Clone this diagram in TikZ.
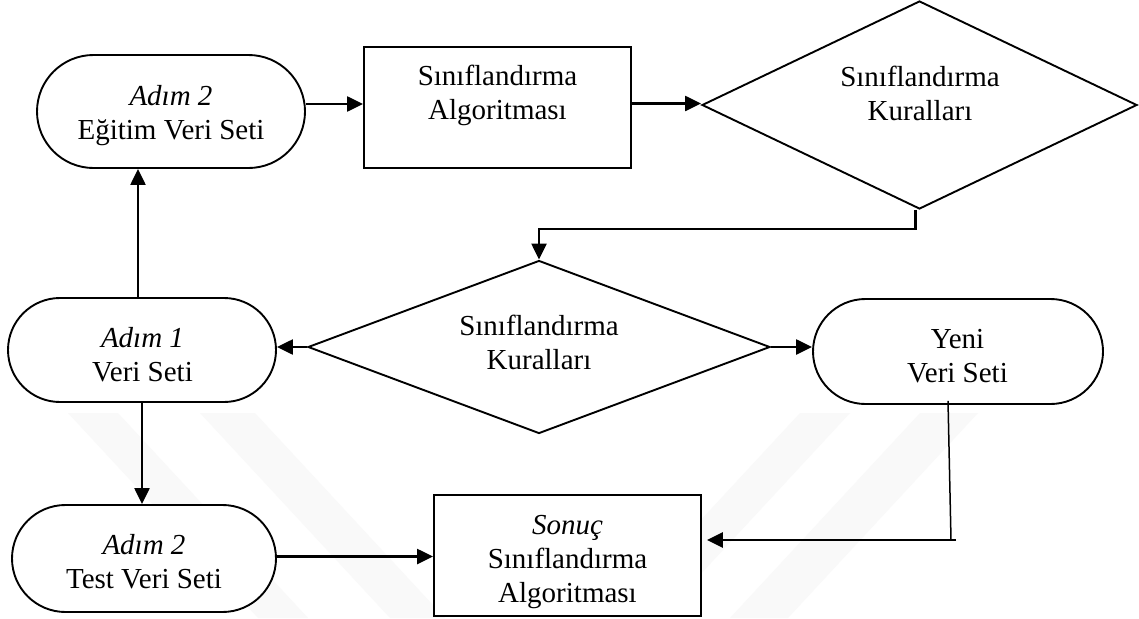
\documentclass[tikz,border=0pt]{standalone}
\usepackage{fontspec}
\setmainfont{Liberation Serif}
\usetikzlibrary{shapes.misc,shapes.geometric,arrows.meta}
% fixed line box: height 26pt, depth 8pt
\newcommand\lnstrut{\rule[-8pt]{0pt}{34pt}}
\begin{document}
\begin{tikzpicture}[x=1pt,y=-1pt,
  shapeline/.style={draw=black,line width=1.9pt,fill=white,inner sep=0pt},
  terminal/.style={shapeline,rounded rectangle},
  process/.style={shapeline,rectangle},
  decision/.style={shapeline,diamond},
  txt/.style={align=center,inner sep=0pt,font=\fontsize{29}{34}\selectfont},
  flow/.style={line width=2.4pt,-{Triangle[length=16pt,width=15pt]}},
  thinline/.style={line width=1.5pt},
  wmband/.style={fill=gray!5,draw=none}]
\useasboundingbox (0,0) rectangle (1139,618);
\fill[white] (0,0) rectangle (1139,618);

% faint background logo strokes
\fill[wmband] (68,413) -- (118,413) -- (308,618) -- (258,618) -- cycle;
\fill[wmband] (200,413) -- (255,413) -- (445,618) -- (390,618) -- cycle;
\fill[wmband] (800,413) -- (850,413) -- (660,618) -- (610,618) -- cycle;
\fill[wmband] (920,413) -- (978,413) -- (788,618) -- (730,618) -- cycle;

% shapes
\node[terminal,minimum width=268pt,minimum height=113pt] (e2) at (171,111.5) {};
\node[process,minimum width=267pt,minimum height=121pt] (alg) at (497.5,107.5) {};
\node[decision,minimum width=435pt,minimum height=208pt] (d1) at (919.5,105) {};
\node[decision,minimum width=462pt,minimum height=173pt] (d2) at (539,347) {};
\node[terminal,minimum width=268pt,minimum height=104pt] (e1) at (142,350) {};
\node[terminal,minimum width=290pt,minimum height=105pt] (yeni) at (958,351.5) {};
\node[terminal,minimum width=264pt,minimum height=107pt] (test) at (144,558.5) {};
\node[process,minimum width=267pt,minimum height=121pt] (res) at (567.5,555.5) {};

% texts
\node[txt] (e2t) at (171,113) {\lnstrut\textit{Adım 2}\\\lnstrut Eğitim Veri Seti};
\node[txt] (algt) at (497.5,93.5) {\lnstrut Sınıflandırma\\\lnstrut Algoritması};
\node[txt] (d1t) at (920,94.5) {\lnstrut Sınıflandırma\\\lnstrut Kuralları};
\node[txt] (d2t) at (539,343.5) {\lnstrut Sınıflandırma\\\lnstrut Kuralları};
\node[txt] (e1t) at (142.5,355) {\lnstrut\textit{Adım 1}\\\lnstrut Veri Seti};
\node[txt] (yenit) at (957.5,356.5) {\lnstrut Yeni\\\lnstrut Veri Seti};
\node[txt] (testt) at (144,562.5) {\lnstrut\textit{Adım 2}\\\lnstrut Test Veri Seti};
\node[txt] (rest) at (567.5,559) {\lnstrut\textit{Sonuç}\\\lnstrut Sınıflandırma\\\lnstrut Algoritması};

% connectors
\draw[flow] ([yshift=7.5pt]e2.east) -- ([yshift=7.5pt]e2.east -| alg.west);
\draw[flow] ([yshift=4pt]alg.east) -- ([yshift=4pt]alg.east -| d1.west);
\draw[flow] ([xshift=-4pt]d1.south) -- ++(0,19) -| (d2.north);
\draw[flow] ([xshift=-4pt]e1.north) -- ([xshift=-4pt]e1.north |- e2.south);
\draw[flow] (d2.west) -- (d2.west -| e1.east);
\draw[flow] (d2.east) -- (d2.east -| yeni.west);
\draw[flow] (e1.south) -- (e1.south |- test.north);
\draw[flow] ([yshift=2pt]test.east) -- ([yshift=2pt]test.east -| res.west);
\coordinate (bend) at (951,540);
\draw[thinline] ([xshift=-10pt,yshift=4pt]yeni.south) -- (bend);
\draw[flow,line width=2.8pt] ([xshift=5pt]bend) -- ([xshift=5pt]bend -| res.east);
\end{tikzpicture}
\end{document}
